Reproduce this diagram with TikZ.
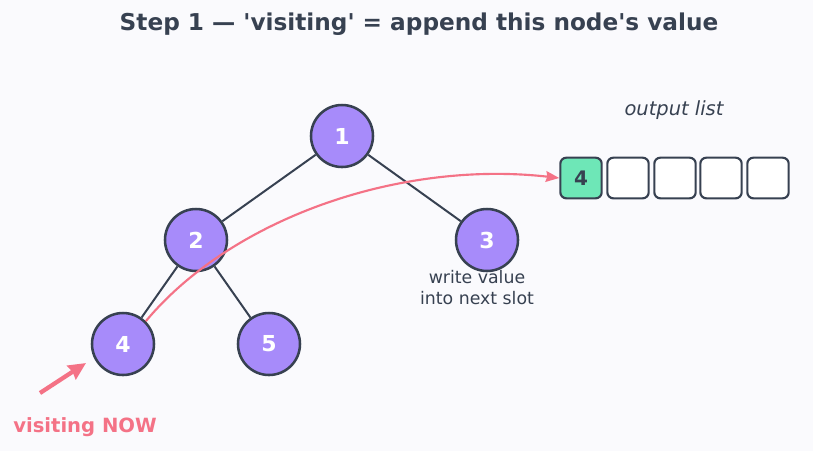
\documentclass[tikz,border=0pt]{standalone}
\usepackage{fontspec}
\setmainfont{DejaVu Sans}
\usepackage{tikz}
\usetikzlibrary{arrows.meta}
\definecolor{bg}{RGB}{250,250,253}
\definecolor{ink}{RGB}{55,65,81}
\definecolor{violet}{RGB}{167,139,250}
\definecolor{mint}{RGB}{110,231,183}
\definecolor{rose}{RGB}{244,114,134}

\begin{document}
\begin{tikzpicture}[x=0.75pt,y=-0.75pt,
	treenode/.style={circle,draw=ink,line width=1.9pt,fill=violet,minimum size=46.5pt,inner sep=0pt,text=white,font=\fontsize{16.5}{16.5}\selectfont\bfseries},
	slot/.style={rounded corners=4.5pt,draw=ink,line width=1.6pt,fill=white,minimum width=31pt,minimum height=30.5pt,inner sep=0pt,text=ink,font=\fontsize{15}{15}\selectfont\bfseries}]
	\fill[bg] (0,0) rectangle (813,451);
	\useasboundingbox (0,0) rectangle (813,451);
	\node[font=\fontsize{17.4}{17.4}\selectfont\bfseries,text=ink] (title) at (419,24) {Step 1 — \textquotesingle visiting\textquotesingle{} = append this node\textquotesingle s value};
	
	\node[treenode] (1) at (342,136) {1};
	\node[treenode] (2) at (196,240) {2};
	\node[treenode] (3) at (487,240) {3};
	\node[treenode] (4) at (123,344) {4};
	\node[treenode] (5) at (269,344) {5};
	
	\foreach \x/\y in {1/2,1/3,2/4,2/5}
		\draw[ink,line width=1.5pt] (\x) -- (\y);
	
	\node[font=\fontsize{14.6}{14.6}\selectfont\itshape,text=ink] (caption) at (674,110) {output list};
	\node[slot,fill=mint] (s1) at (581,178) {4};
	\node[slot] (s2) at (628,178) {};
	\node[slot] (s3) at (675,178) {};
	\node[slot] (s4) at (721,178) {};
	\node[slot] (s5) at (768,178) {};
	
	\node[align=center,text=ink,font=\fontsize{13}{15.75}\selectfont] (note) at (477,288) {write value\\into next slot};
	
	\draw[rose,line width=1.6pt,arrows={-Stealth[length=10pt,width=8pt,inset=1pt]}] (4.north east) .. controls (232,218) and (400,160) .. (s1.west);
	
	\coordinate (tail) at (40,393);
	\coordinate (tip) at (86,363);
	\draw[rose,line width=3.2pt,arrows={-Stealth[length=13pt,width=12pt,inset=1pt]}] (tail) -- (tip);
	\node[text=rose,font=\fontsize{14.7}{14.7}\selectfont\bfseries] (visit) at (85,427) {visiting NOW};
\end{tikzpicture}
\end{document}
